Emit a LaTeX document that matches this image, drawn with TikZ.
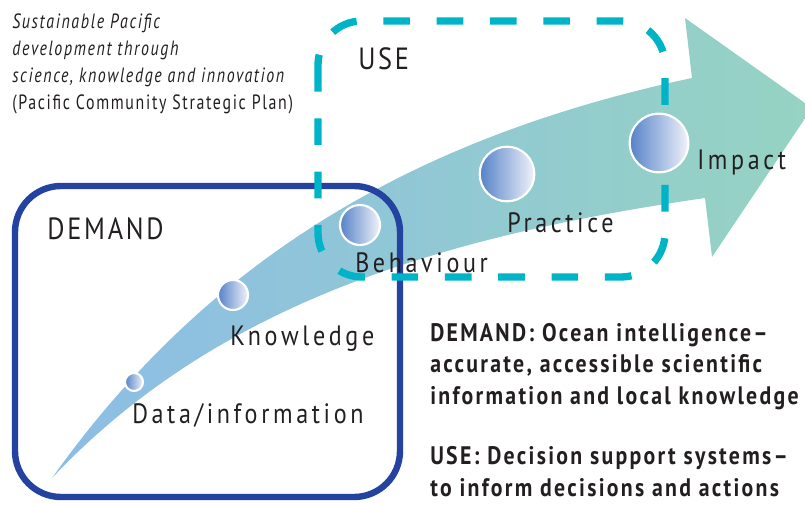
\documentclass[tikz,border=0pt]{standalone}
\usepackage{fontspec}
\setmainfont{PT Sans}[FakeStretch=0.86]
\newfontfamily\spaced{PT Sans}[FakeStretch=0.86,LetterSpace=9]
\newfontfamily\narrowspaced{PT Sans}[FakeStretch=0.77,LetterSpace=8]
\newfontfamily\widespaced{PT Sans}[FakeStretch=0.86,LetterSpace=13]
\definecolor{arrowblue}{HTML}{8CBDE6}
\definecolor{arrowmint}{HTML}{96D3C2}
\definecolor{dotblue}{HTML}{5582C8}
\definecolor{dotlight}{HTML}{F0F2FA}
\definecolor{usecyan}{HTML}{00B4C8}
\definecolor{demandnavy}{HTML}{2442A0}
\definecolor{inkgrey}{HTML}{231F20}
\tikzset{
  stepdot/.style={circle, draw=white, line width=1.6pt, left color=dotblue,
    right color=dotlight, inner sep=0pt},
  steplabel/.style={anchor=base west, inner sep=0pt, text=inkgrey,
    font=\widespaced\fontsize{21}{24}\selectfont},
  boxtitle/.style={anchor=base west, inner sep=0pt, text=inkgrey,
    font=\spaced\fontsize{23}{28}\selectfont},
  notetext/.style={anchor=north west, inner sep=0pt, align=left, text=inkgrey},
}
\begin{document}
\begin{tikzpicture}[x=0.75pt, y=-0.75pt]
  \useasboundingbox (0,0) rectangle (805,505);
  % the curved arrow
  \path[left color=arrowblue, right color=arrowmint]
    (52,478) .. controls (200,270) and (400,140) .. (692,78)
    -- (685,18) -- (812,108) -- (712,257) -- (705,198)
    .. controls (450,235) and (220,300) .. (52,478) -- cycle;
  % demand and use frames
  \draw[demandnavy, line width=4.8pt, rounded corners=46*0.75pt]
    (15,186) rectangle (400,497);
  \draw[usecyan, line width=5.5pt, dash pattern=on 20pt off 20pt,
    rounded corners=44*0.75pt] (318,21) rectangle (665,277);
  % steps
  \node[stepdot, minimum size=13.5pt] (data) at (134,382) {};
  \node[stepdot, minimum size=22.5pt] (know) at (233,295) {};
  \node[stepdot, minimum size=30pt] (behav) at (360,225) {};
  \node[stepdot, minimum size=41pt] (pract) at (507,174) {};
  \node[stepdot, minimum size=44pt] (impact) at (659,143) {};
  \node[steplabel] (datalbl) at (132,423) {Data/information};
  \node[steplabel] (knowlbl) at (230,345) {Knowledge};
  \node[steplabel] (behavlbl) at (355,273) {Behaviour};
  \node[steplabel] (practlbl) at (507,233) {Practice};
  \node[steplabel] (impactlbl) at (697,170) {Impact};
  % titles
  \node[boxtitle] (demand) at (47,240) {DEMAND};
  \node[boxtitle] (use) at (358,70) {USE};
  % notes
  \node[notetext, font=\narrowspaced\fontsize{15.5}{20.2}\selectfont] (plan) at (12,14)
    {\textit{Sustainable Pacific}\\
     \textit{development through}\\
     \textit{science, knowledge and innovation}\\
     (Pacific Community Strategic Plan)};
  \node[notetext, font=\spaced\bfseries\fontsize{19}{23.5}\selectfont] (key) at (430,323)
    {DEMAND: Ocean intelligence–\\
     accurate, accessible scientific\\
     information and local knowledge\\[22pt]
     USE: Decision support systems–\\
     to inform decisions and actions};
\end{tikzpicture}
\end{document}
